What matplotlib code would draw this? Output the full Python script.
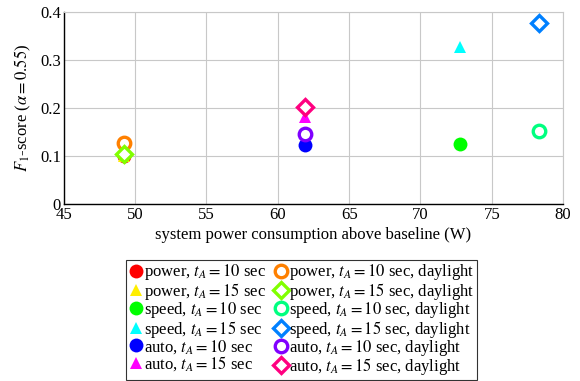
import matplotlib
matplotlib.use("Agg")
import matplotlib.pyplot as plt

plt.rcParams["font.family"] = ["Liberation Serif", "DejaVu Serif"]
plt.rcParams["mathtext.fontset"] = "stix"

# power consumption above baseline (W) and F1-score per configuration
labels = [
    "power, $t_A = 10$ sec",
    "power, $t_A = 15$ sec",
    "speed, $t_A = 10$ sec",
    "speed, $t_A = 15$ sec",
    "auto, $t_A = 10$ sec",
    "auto, $t_A = 15$ sec",
    "power, $t_A = 10$ sec, daylight",
    "power, $t_A = 15$ sec, daylight",
    "speed, $t_A = 10$ sec, daylight",
    "speed, $t_A = 15$ sec, daylight",
    "auto, $t_A = 10$ sec, daylight",
    "auto, $t_A = 15$ sec, daylight",
]
power_w = [49.2, 49.2, 72.8, 72.8, 61.9, 61.9,
           49.2, 49.2, 78.3, 78.3, 61.9, 61.9]
f1_score = [0.100, 0.100, 0.125, 0.328, 0.122, 0.181,
            0.128, 0.105, 0.151, 0.376, 0.146, 0.203]
colors = ["#ff0000", "#ffee00", "#00ff00", "#00ffff", "#0000ff", "#ff00ff",
          "#ff8000", "#80ff00", "#00ff80", "#0080ff", "#8000ff", "#ff0080"]
markers = ["o", "^", "o", "^", "o", "^",
           "o", "D", "o", "D", "o", "D"]

fig = plt.figure(figsize=(5.8, 3.81), dpi=100)
ax = fig.add_axes([0.110, 0.4646, 0.861, 0.504])

for i in range(len(labels)):
    daylight = i >= 6
    if daylight:
        size = 8 if markers[i] == "D" else 9
        ax.plot(power_w[i], f1_score[i], linestyle="none", marker=markers[i],
                markersize=size, markerfacecolor="white", markeredgecolor=colors[i],
                markeredgewidth=2.4, label=labels[i], zorder=3)
    else:
        size = 10 if markers[i] == "o" else 8
        ax.plot(power_w[i], f1_score[i], linestyle="none", marker=markers[i],
                markersize=size, color=colors[i], markeredgewidth=0,
                label=labels[i], zorder=3)

ax.set_xlim(45, 80)
ax.set_ylim(0, 0.4)
ax.set_xticks(range(45, 81, 5))
ax.set_yticks([0, 0.1, 0.2, 0.3, 0.4])
ax.set_yticklabels(["0", "0.1", "0.2", "0.3", "0.4"])
ax.grid(True, color="#c8c8c8", linewidth=0.8)
ax.set_axisbelow(True)
ax.tick_params(labelsize=12, direction="in", length=0, pad=2)
for side in ["top", "right"]:
    ax.spines[side].set_color("#c8c8c8")
for side in ["left", "bottom"]:
    ax.spines[side].set_linewidth(1.0)
ax.set_xlabel("system power consumption above baseline (W)", fontsize=12, labelpad=3)
ax.set_ylabel(r"$F_1$-score ($\alpha = 0.55$)", fontsize=12, labelpad=5)

leg = fig.legend(loc="upper left", bbox_to_anchor=(126 / 580, 1 - 260 / 381),
                 ncol=2, fontsize=12, frameon=True, fancybox=False,
                 edgecolor="black", handlelength=0.9, handletextpad=0.05,
                 columnspacing=0.4, labelspacing=-0.1, borderpad=0.15,
                 borderaxespad=0)
leg.get_frame().set_linewidth(0.8)

fig.savefig("out.png", dpi=100)
